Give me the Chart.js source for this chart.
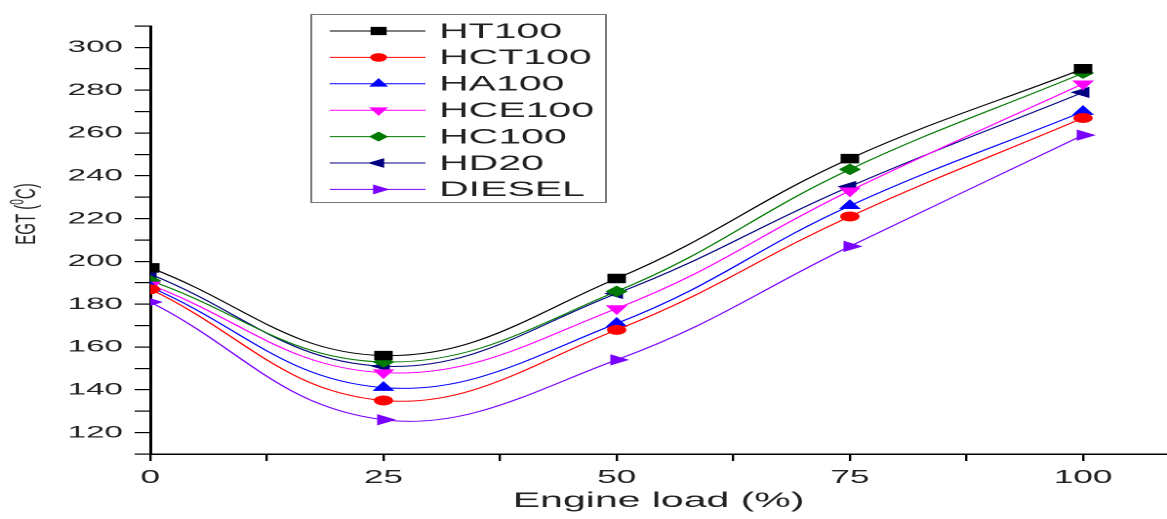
<!DOCTYPE html>
<html>
<head>
<meta charset="utf-8">
<script src="https://cdn.jsdelivr.net/npm/chart.js@4.4.0/dist/chart.umd.min.js"></script>
<style>
  html, body { margin: 0; padding: 0; background: #fff; overflow: hidden; }
  /* the plot is drawn narrow and then widened */
  #wrap { width: 605px; height: 519px; transform: scaleX(1.9515); transform-origin: 0 0; }
</style>
</head>
<body>
<div id="wrap"><canvas id="egtChart" width="605" height="519"></canvas></div>
<script>
const loads = [0, 25, 50, 75, 100];

const ht100  = [197, 156, 192, 248, 290];
const hct100 = [187, 135, 168, 221, 267];
const ha100  = [188, 141, 171, 226, 270];
const hce100 = [189, 148, 178, 233, 283];
const hc100  = [191, 153, 186, 243, 288];
const hd20   = [194, 151, 185, 235, 279];
const diesel = [181, 126, 154, 207, 259];

const xTicks = [0, 25, 50, 75, 100];
const yTicks = [120, 140, 160, 180, 200, 220, 240, 260, 280, 300];

const FONT = '"Liberation Sans", Arial, sans-serif';

function series(label, values, color, style, rotation, radius) {
  return {
    label: label,
    data: values.map((v, i) => ({ x: loads[i], y: v })),
    borderColor: color,
    backgroundColor: color,
    pointBackgroundColor: color,
    pointBorderColor: color,
    pointStyle: style,
    rotation: rotation,
    pointRadius: radius,
    pointBorderWidth: 1,
    borderWidth: 1,
    tension: 0.4,
    fill: false
  };
}

const datasets = [
  series('HT100', ht100, '#000000', 'rect', 0, 6),
  series('HCT100', hct100, '#ff0000', 'circle', 0, 4.5),
  series('HA100', ha100, '#0000ff', 'triangle', 0, 5.5),
  series('HCE100', hce100, '#ff00ff', 'triangle', 180, 5.5),
  series('HC100', hc100, '#007a00', 'rectRot', 0, 5),
  series('HD20', hd20, '#000080', 'triangle', -90, 5.5),
  series('DIESEL', diesel, '#7a00ff', 'triangle', 90, 5.5)
];

// boxed legend inside the plot plus the y axis title with superscript
const boxLegend = {
  id: 'boxLegend',
  afterDatasetsDraw(chart) {
    const ctx = chart.ctx;
    const left = 159, top = 14, w = 151, h = 188;
    ctx.save();
    ctx.fillStyle = '#fff';
    ctx.fillRect(left, top, w, h);
    ctx.strokeStyle = '#777';
    ctx.lineWidth = 1;
    ctx.strokeRect(left + 0.5, top + 0.5, w, h);

    chart.data.datasets.forEach((ds, i) => {
      const y = 31 + i * 26.4;
      ctx.strokeStyle = ds.borderColor;
      ctx.lineWidth = 1;
      ctx.beginPath();
      ctx.moveTo(169, y);
      ctx.lineTo(218, y);
      ctx.stroke();
      ctx.fillStyle = ds.pointBackgroundColor;
      Chart.helpers.drawPoint(ctx, {
        pointStyle: ds.pointStyle,
        rotation: ds.rotation,
        radius: ds.pointRadius * 0.85,
        borderWidth: 1
      }, 194, y);
      ctx.fillStyle = '#222';
      ctx.font = '21px ' + FONT;
      ctx.textBaseline = 'middle';
      ctx.textAlign = 'left';
      ctx.fillText(ds.label, 225, y + 1);
    });

    // y title: EGT (⁰C)
    ctx.translate(14, 214);
    ctx.rotate(-Math.PI / 2);
    ctx.fillStyle = '#222';
    ctx.textBaseline = 'middle';
    ctx.textAlign = 'left';
    const big = '15px ' + FONT, small = '10px ' + FONT;
    ctx.font = big;
    const a = 'EGT (', c = 'C)';
    const wa = ctx.measureText(a).width, wc = ctx.measureText(c).width;
    ctx.font = small;
    const wb = ctx.measureText('0').width;
    let x = -(wa + wb + wc) / 2;
    ctx.font = big;
    ctx.fillText(a, x, 0);
    x += wa;
    ctx.font = small;
    ctx.fillText('0', x, -5);
    x += wb;
    ctx.font = big;
    ctx.fillText(c, x, 0);
    ctx.restore();
  }
};

new Chart(document.getElementById('egtChart'), {
  type: 'line',
  data: { datasets: datasets },
  plugins: [boxLegend],
  options: {
    responsive: false,
    animation: false,
    devicePixelRatio: 2,
    layout: { padding: { top: 26, right: 0, left: 0, bottom: 0 } },
    plugins: {
      legend: { display: false },
      tooltip: { enabled: false }
    },
    scales: {
      x: {
        type: 'linear',
        min: 0,
        max: 109,
        afterFit: s => { s.height = 65; },
        border: { display: true, color: '#000', width: 1.5 },
        grid: { drawOnChartArea: false, color: '#000', tickLength: 7, lineWidth: 1.2 },
        ticks: {
          stepSize: 12.5,
          includeBounds: false,
          autoSkip: false,
          maxRotation: 0,
          padding: 6,
          color: '#222',
          font: { family: FONT, size: 18 },
          callback: v => xTicks.includes(v) ? String(v) : ''
        },
        title: {
          display: true,
          text: 'Engine load (%)',
          color: '#222',
          font: { family: FONT, size: 21 },
          padding: { top: 0, bottom: 5 }
        }
      },
      y: {
        min: 110,
        max: 310,
        afterFit: s => { s.width = 77; },
        border: { display: true, color: '#000', width: 1.5 },
        grid: { drawOnChartArea: false, color: '#000', tickLength: 8, lineWidth: 1.2 },
        ticks: {
          stepSize: 10,
          autoSkip: false,
          padding: 6,
          color: '#222',
          font: { family: FONT, size: 17 },
          callback: v => yTicks.includes(v) ? String(v) : ''
        }
      }
    }
  }
});
</script>
</body>
</html>
